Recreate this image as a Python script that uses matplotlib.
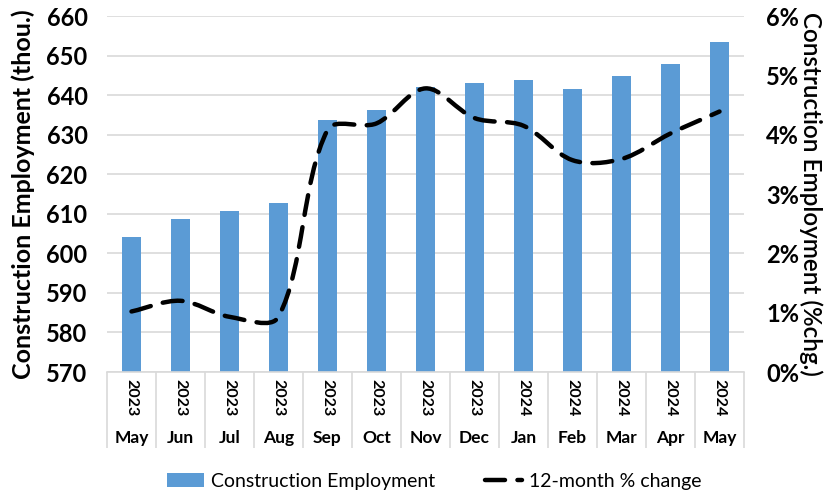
import numpy as np
import matplotlib.pyplot as plt
from matplotlib.path import Path
from matplotlib.patches import PathPatch, Patch
from matplotlib.lines import Line2D
import matplotlib.transforms as mtransforms

plt.rcParams['font.family'] = ['Lato', 'DejaVu Sans']

months = ["May", "Jun", "Jul", "Aug", "Sep", "Oct", "Nov",
          "Dec", "Jan", "Feb", "Mar", "Apr", "May"]
years = ["2023"] * 8 + ["2024"] * 5
employment = [604.1, 608.8, 610.7, 612.7, 633.7, 636.2, 642.0,
              643.0, 643.7, 641.5, 644.8, 647.9, 653.5]
pct_change = [1.02, 1.20, 0.93, 0.93, 4.08, 4.19, 4.78,
              4.28, 4.15, 3.57, 3.59, 4.02, 4.39]

BAR_COLOR = "#5B9BD5"
GRID_COLOR = "#D9D9D9"
DASH = (0, (4.5, 2.8))


def smooth_path(ax, xs, ys):
    # bezier smoothing (chord-length weighted, like excel's "smoothed line")
    pts = np.column_stack([xs, ys]).astype(float)
    disp = ax.transData.transform(pts)
    n = len(pts)
    verts = [tuple(pts[0])]
    codes = [Path.MOVETO]
    for i in range(n - 1):
        i0, i3 = max(i - 1, 0), min(i + 2, n - 1)
        d01 = np.hypot(*(disp[i] - disp[i0]))
        d12 = np.hypot(*(disp[i + 1] - disp[i]))
        d23 = np.hypot(*(disp[i3] - disp[i + 1]))
        c1 = pts[i] + (pts[i + 1] - pts[i0]) * d12 / (d01 + d12) / 3 if d01 > 0 else pts[i] + (pts[i + 1] - pts[i]) / 3
        c2 = pts[i + 1] - (pts[i3] - pts[i]) * d12 / (d12 + d23) / 3 if d23 > 0 else pts[i + 1] - (pts[i + 1] - pts[i]) / 3
        verts += [tuple(c1), tuple(c2), tuple(pts[i + 1])]
        codes += [Path.CURVE4] * 3
    return Path(verts, codes)


fig, ax = plt.subplots(figsize=(8.27, 4.95), dpi=100)
fig.subplots_adjust(left=107 / 827, right=744 / 827, top=1 - 16 / 495, bottom=1 - 372 / 495)

x = np.arange(len(months))
ax.bar(x, employment, width=0.37, color=BAR_COLOR, zorder=2)
ax.set_xlim(-0.5, len(months) - 0.5)
ax.set_ylim(570, 660)
ax.set_yticks(np.arange(570, 661, 10))
ax.yaxis.grid(True, color=GRID_COLOR, linewidth=1.2, zorder=0)
ax.set_axisbelow(True)
for s in ["top", "left", "right"]:
    ax.spines[s].set_visible(False)
ax.spines["bottom"].set_color(GRID_COLOR)
ax.spines["bottom"].set_linewidth(1.2)
ax.tick_params(axis="y", length=0, labelsize=17, pad=14)
for lbl in ax.get_yticklabels():
    lbl.set_fontweight("bold")

# category table: separators drawn as long ticks
ax.set_xticks(np.arange(-0.5, len(months), 1.0))
ax.set_xticklabels([])
ax.tick_params(axis="x", direction="out", length=55, color=GRID_COLOR, width=1.2)
trans = mtransforms.blended_transform_factory(ax.transData, fig.transFigure)
for i in range(len(months)):
    ax.text(x[i], 1 - 398 / 495, years[i], rotation=-90, ha="center", va="center",
            fontsize=11.5, fontweight="bold", transform=trans)
    ax.text(x[i], 1 - 438 / 495, months[i], ha="center", va="center",
            fontsize=12.5, fontweight="bold", transform=trans)

ax.set_ylabel("Construction Employment (thou.)", fontsize=18, fontweight="bold", labelpad=8)

ax2 = ax.twinx()
ax2.set_ylim(0, 6)
ax2.set_yticks(range(0, 7))
ax2.set_yticklabels([f"{v}%" for v in range(0, 7)])
for s in ["top", "left", "right", "bottom"]:
    ax2.spines[s].set_visible(False)
ax2.tick_params(axis="y", length=0, labelsize=17, pad=16)
for lbl in ax2.get_yticklabels():
    lbl.set_fontweight("bold")
ax2.set_ylabel("Construction Employment (%chg.)", fontsize=17.5, rotation=-90,
               labelpad=17, fontweight="semibold")

line = PathPatch(smooth_path(ax2, x, pct_change), fill=False, edgecolor="black",
                 linewidth=3.2, linestyle=DASH, capstyle="round", zorder=3)
ax2.add_patch(line)

handles = [Patch(facecolor=BAR_COLOR, edgecolor="none"),
           Line2D([0], [0], color="black", linewidth=3.2, linestyle=DASH,
                  dash_capstyle="round")]
fig.legend(handles, ["Construction Employment", "12-month % change"],
           loc="center", bbox_to_anchor=(0.525, 1 - 481 / 495), ncol=2, frameon=False,
           fontsize=14, handlelength=1.9, handleheight=0.75, columnspacing=2.6,
           handletextpad=0.35)

fig.savefig("out.png", dpi=100)
